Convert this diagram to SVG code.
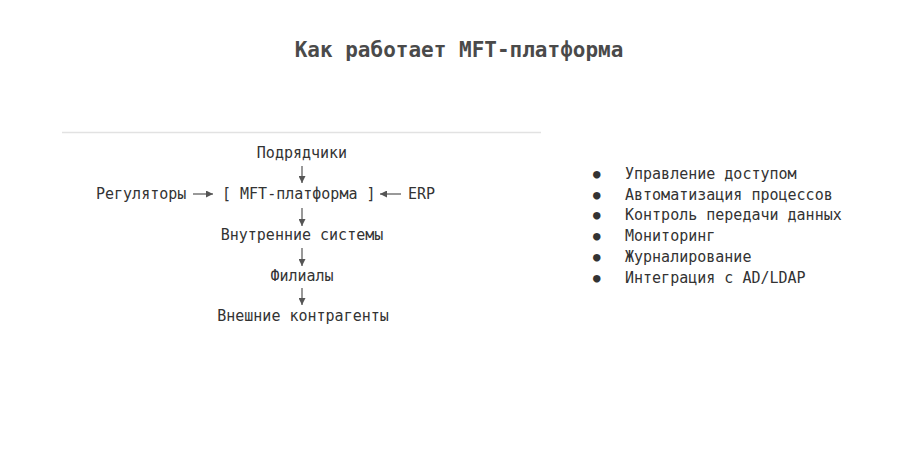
<svg xmlns="http://www.w3.org/2000/svg" width="917" height="463" viewBox="0 0 917 463">
<style>
text{font-family:"DejaVu Sans Mono","Liberation Mono",monospace;fill:#333}
.t{font-size:21px;fill:#4a4a4a;font-weight:bold}
.n{font-size:15px}
.b{font-size:12.5px}
.c line{stroke:#555;stroke-width:1.2}
</style>
<defs>
<marker id="ah" viewBox="0 0 10 10" refX="10" refY="5" markerWidth="7" markerHeight="7" markerUnits="userSpaceOnUse" orient="auto"><path d="M0,0L10,5L0,10z" fill="#555"/></marker>
</defs>
<rect width="917" height="463" fill="#fff"/>
<text class="t" x="459" y="57" text-anchor="middle">Как работает MFT-платформа</text>
<line x1="62" y1="132.5" x2="541" y2="132.5" stroke="#e2e2e2" stroke-width="1.5"/>
<g id="contractors"><text class="n" x="302" y="158" text-anchor="middle">Подрядчики</text></g>
<g id="regulators"><text class="n" x="96" y="199">Регуляторы</text></g>
<g id="mft"><text class="n" x="222" y="199">[ MFT-платформа ]</text></g>
<g id="erp"><text class="n" x="408" y="199">ERP</text></g>
<g id="internal"><text class="n" x="302" y="240" text-anchor="middle">Внутренние системы</text></g>
<g id="branches"><text class="n" x="302" y="281" text-anchor="middle">Филиалы</text></g>
<g id="external"><text class="n" x="303" y="321" text-anchor="middle">Внешние контрагенты</text></g>
<g class="c" id="connectors">
<line x1="302" y1="166" x2="302" y2="183" marker-end="url(#ah)"/>
<line x1="193" y1="194" x2="213" y2="194" marker-end="url(#ah)"/>
<line x1="401" y1="194" x2="380" y2="194" marker-end="url(#ah)"/>
<line x1="302" y1="208" x2="302" y2="226" marker-end="url(#ah)"/>
<line x1="302" y1="248" x2="302" y2="266" marker-end="url(#ah)"/>
<line x1="302" y1="288" x2="302" y2="305" marker-end="url(#ah)"/>
</g>
<g id="features">
<text class="b" x="593" y="178">●</text><text class="n" x="625" y="179">Управление доступом</text>
<text class="b" x="593" y="199">●</text><text class="n" x="625" y="200">Автоматизация процессов</text>
<text class="b" x="593" y="219">●</text><text class="n" x="625" y="220">Контроль передачи данных</text>
<text class="b" x="593" y="240">●</text><text class="n" x="625" y="241">Мониторинг</text>
<text class="b" x="593" y="261">●</text><text class="n" x="625" y="262">Журналирование</text>
<text class="b" x="593" y="282">●</text><text class="n" x="625" y="283">Интеграция с AD/LDAP</text>
</g>
</svg>
